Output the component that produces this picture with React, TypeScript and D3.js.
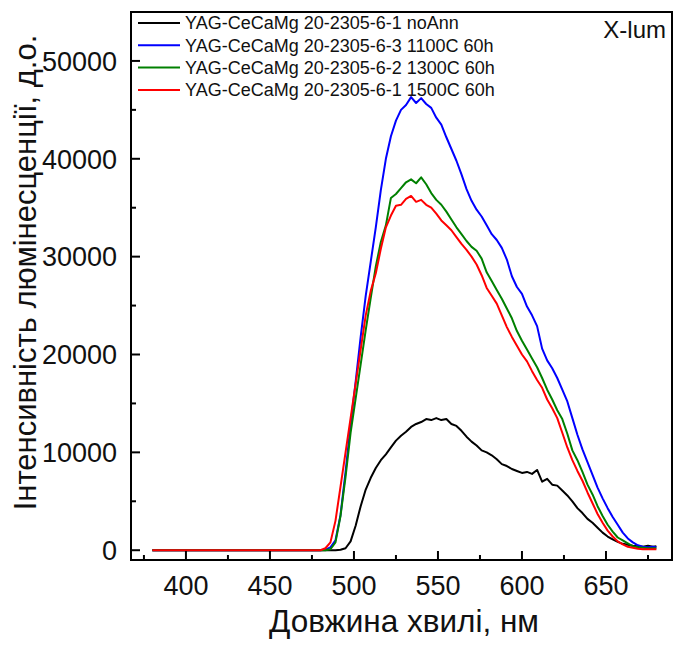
import React, { useEffect } from "react";
import * as d3 from "d3";

const wavelengths = [380, 480, 483, 486, 489, 492, 495, 498, 501, 504, 507, 510, 513, 516, 519, 522, 525, 528, 531, 534, 537, 540, 543, 546, 549, 552, 555, 558, 561, 564, 567, 570, 573, 576, 579, 582, 585, 588, 591, 594, 597, 600, 603, 606, 609, 612, 615, 618, 621, 624, 627, 630, 633, 636, 639, 642, 645, 648, 651, 654, 657, 660, 663, 666, 669, 672, 675, 678, 680];

const noAnn = [0, 0, 0, 0, 0, 50, 200, 900, 2500, 4500, 6200, 7400, 8400, 9200, 9800, 10500, 11200, 11700, 12100, 12600, 12900, 13100, 13400, 13300, 13500, 13300, 13400, 12900, 12700, 12200, 11600, 11100, 10700, 10200, 10000, 9700, 9300, 8800, 8600, 8300, 8100, 7900, 8000, 7800, 8200, 7000, 7300, 6700, 6600, 6100, 5600, 5000, 4300, 3800, 3200, 2800, 2300, 1800, 1400, 1100, 850, 650, 550, 450, 400, 350, 450, 350, 400];

const ann1100 = [0, 0, 50, 300, 1000, 3600, 8000, 12800, 17200, 21800, 26000, 29500, 33000, 36800, 40000, 42300, 43900, 45000, 45500, 46300, 45700, 46200, 45600, 45200, 44200, 43500, 42200, 41000, 39800, 38400, 36900, 35700, 34800, 34100, 33200, 32300, 31700, 30900, 29700, 28000, 26900, 26200, 24900, 24000, 22900, 20600, 19400, 18600, 17600, 16400, 15200, 13500, 11800, 10300, 9000, 7700, 6400, 5300, 4300, 3400, 2600, 1800, 1200, 800, 500, 350, 300, 350, 300];

const ann1300 = [0, 0, 0, 100, 800, 3500, 7500, 12000, 15500, 19000, 22500, 25800, 29000, 31500, 33200, 36000, 36400, 37000, 37600, 37900, 37500, 38100, 37400, 36500, 35800, 35300, 34600, 33800, 33000, 32300, 31600, 31000, 30600, 29800, 28400, 27500, 26600, 25700, 24700, 23700, 22400, 21400, 20500, 19600, 18700, 17600, 16400, 15400, 14300, 13400, 11900, 10200, 9200, 8000, 6700, 5700, 4500, 3500, 2600, 1900, 1300, 1000, 700, 400, 300, 250, 200, 200, 200];

const ann1500 = [0, 0, 200, 800, 3000, 6500, 10000, 13500, 17000, 20500, 24000, 26500, 28300, 30800, 33000, 34200, 35200, 35300, 35900, 36200, 35600, 35800, 35300, 35000, 34400, 33700, 33200, 32700, 32000, 31300, 30700, 30000, 29200, 28100, 26800, 26000, 25200, 24000, 22800, 21800, 20900, 20000, 19300, 18300, 17400, 16600, 15400, 14500, 13500, 12000, 10500, 9200, 8100, 7100, 5900, 4800, 3700, 2800, 2000, 1400, 900, 600, 350, 250, 150, 100, 100, 100, 100];

const seriesNames = [
  "YAG-CeCaMg 20-2305-6-1 noAnn",
  "YAG-CeCaMg 20-2305-6-3 1100C 60h",
  "YAG-CeCaMg 20-2305-6-2 1300C 60h",
  "YAG-CeCaMg 20-2305-6-1 1500C 60h",
];
const seriesValues = [noAnn, ann1100, ann1300, ann1500];
const seriesColors = ["#000000", "#0000ff", "#008000", "#ff0000"];

const xMajorTicks = [400, 450, 500, 550, 600, 650];
const xMinorTicks = [375, 425, 475, 525, 575, 625, 675];
const yMajorTicks = [0, 10000, 20000, 30000, 40000, 50000];
const yMinorTicks = [5000, 15000, 25000, 35000, 45000];

const W = 673;
const H = 649;
const FONT = "'Liberation Sans', Arial, sans-serif";

export default function App() {
  useEffect(() => {
    document.body.style.margin = "0";
  }, []);

  const left = 131, right = 672, top = 12, bottom = 560;
  const x = d3.scaleLinear().domain([367.3, 689.3]).range([left, right]);
  const y = d3.scaleLinear().domain([-1000, 55000]).range([bottom, top]);

  const line = d3
    .line<number>()
    .x((_, i) => x(wavelengths[i]))
    .y((v) => y(v));

  return (
    <svg width={W} height={H} style={{ display: "block", background: "#fff" }} fontFamily={FONT}>
      <rect x={0} y={0} width={W} height={H} fill="#fff" />
      <g>
        {seriesValues.map((vals, i) => (
          <path key={i} d={line(vals) || ""} fill="none" stroke={seriesColors[i]} strokeWidth={2} strokeLinejoin="round" />
        ))}
      </g>
      {/* frame */}
      <rect x={left} y={top} width={right - left} height={bottom - top} fill="none" stroke="#000" strokeWidth={2} />
      {/* x ticks */}
      {xMajorTicks.map((t) => (
        <g key={"xm" + t}>
          <line x1={x(t)} x2={x(t)} y1={bottom} y2={bottom - 9} stroke="#000" strokeWidth={2} />
          <text x={x(t)} y={595} fontSize={27} textAnchor="middle" fill="#111">{t}</text>
        </g>
      ))}
      {xMinorTicks.map((t) => (
        <line key={"xn" + t} x1={x(t)} x2={x(t)} y1={bottom} y2={bottom - 5} stroke="#000" strokeWidth={2} />
      ))}
      {/* y ticks */}
      {yMajorTicks.map((t) => (
        <g key={"ym" + t}>
          <line x1={left} x2={left + 9} y1={y(t)} y2={y(t)} stroke="#000" strokeWidth={2} />
          <text x={117} y={y(t)} dy="0.36em" fontSize={27} textAnchor="end" fill="#111">{t}</text>
        </g>
      ))}
      {yMinorTicks.map((t) => (
        <line key={"yn" + t} x1={left} x2={left + 5} y1={y(t)} y2={y(t)} stroke="#000" strokeWidth={2} />
      ))}
      {/* axis titles */}
      <text x={404} y={632} fontSize={31.5} textAnchor="middle" fill="#111">Довжина хвилі, нм</text>
      <text transform={`translate(36, 272.5) rotate(-90)`} fontSize={31} textAnchor="middle" fill="#111">Інтенсивність люмінесценції, д.о.</text>
      {/* legend */}
      {seriesNames.map((name, i) => (
        <g key={"lg" + i}>
          <line x1={138} x2={180} y1={23 + 22.3 * i} y2={23 + 22.3 * i} stroke={seriesColors[i]} strokeWidth={2} />
          <text x={185} y={23 + 22.3 * i} dy="0.36em" fontSize={18} fill="#111">{name}</text>
        </g>
      ))}
      <text x={666} y={38} fontSize={24} textAnchor="end" fill="#111">X-lum</text>
    </svg>
  );
}
